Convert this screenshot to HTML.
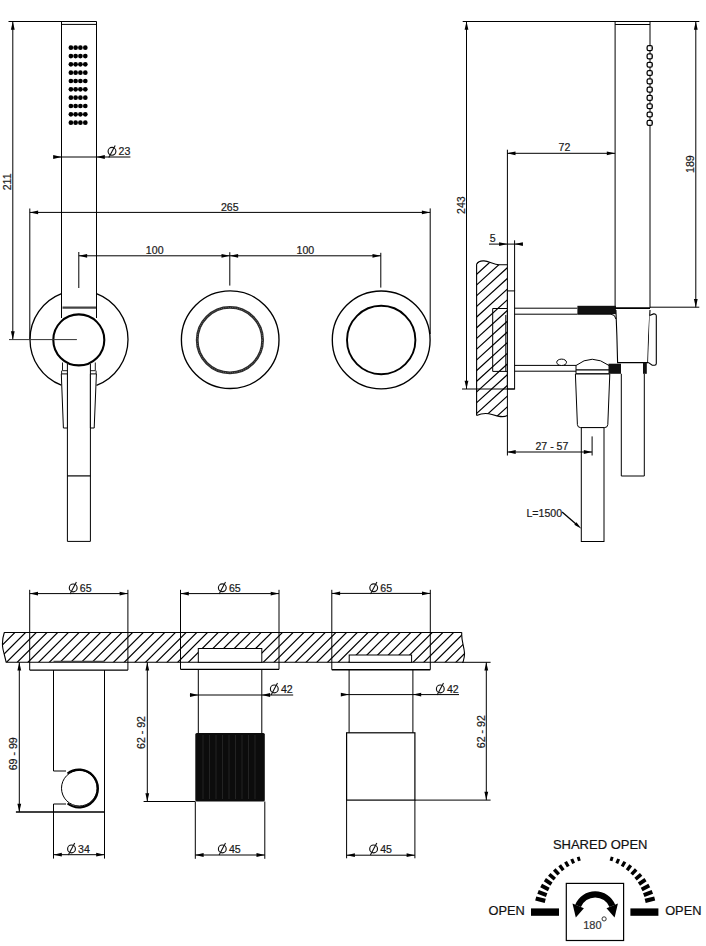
<!DOCTYPE html><html><head><meta charset="utf-8"><style>
html,body{margin:0;padding:0;background:#fff;}
svg{display:block;font-family:"Liberation Sans",sans-serif;}
</style></head><body>
<svg width="706" height="946" viewBox="0 0 706 946">
<line x1="8.50" y1="21.50" x2="96.60" y2="21.50" stroke="#000" stroke-width="1.0"/>
<line x1="12.80" y1="21.50" x2="12.80" y2="339.60" stroke="#000" stroke-width="1.0"/>
<polygon points="12.80,21.50 10.90,29.80 14.70,29.80" fill="#000"/>
<polygon points="12.80,339.60 10.90,331.30 14.70,331.30" fill="#000"/>
<text x="10.90" y="181.90" font-size="10.6" text-anchor="middle" fill="#1a1a1a" stroke="#1a1a1a" stroke-width="0.2" transform="rotate(-90 10.90 181.90)" >211</text>
<path d="M61.5,21.5 L61.5,318 M96.5,21.5 L96.5,318" fill="none" stroke="#000" stroke-width="1.0" />
<line x1="61.50" y1="24.40" x2="96.50" y2="24.40" stroke="#000" stroke-width="1.0"/>
<line x1="62.50" y1="307.70" x2="96.00" y2="307.70" stroke="#444" stroke-width="2.2"/>
<circle cx="70.90" cy="47.70" r="2.35" fill="#000" stroke="none" stroke-width="0" />
<circle cx="75.60" cy="47.70" r="2.35" fill="#000" stroke="none" stroke-width="0" />
<circle cx="80.40" cy="47.70" r="2.35" fill="#000" stroke="none" stroke-width="0" />
<circle cx="85.30" cy="47.70" r="2.35" fill="#000" stroke="none" stroke-width="0" />
<circle cx="70.90" cy="56.03" r="2.35" fill="#000" stroke="none" stroke-width="0" />
<circle cx="75.60" cy="56.03" r="2.35" fill="#000" stroke="none" stroke-width="0" />
<circle cx="80.40" cy="56.03" r="2.35" fill="#000" stroke="none" stroke-width="0" />
<circle cx="85.30" cy="56.03" r="2.35" fill="#000" stroke="none" stroke-width="0" />
<circle cx="70.90" cy="64.36" r="2.35" fill="#000" stroke="none" stroke-width="0" />
<circle cx="75.60" cy="64.36" r="2.35" fill="#000" stroke="none" stroke-width="0" />
<circle cx="80.40" cy="64.36" r="2.35" fill="#000" stroke="none" stroke-width="0" />
<circle cx="85.30" cy="64.36" r="2.35" fill="#000" stroke="none" stroke-width="0" />
<circle cx="70.90" cy="72.69" r="2.35" fill="#000" stroke="none" stroke-width="0" />
<circle cx="75.60" cy="72.69" r="2.35" fill="#000" stroke="none" stroke-width="0" />
<circle cx="80.40" cy="72.69" r="2.35" fill="#000" stroke="none" stroke-width="0" />
<circle cx="85.30" cy="72.69" r="2.35" fill="#000" stroke="none" stroke-width="0" />
<circle cx="70.90" cy="81.02" r="2.35" fill="#000" stroke="none" stroke-width="0" />
<circle cx="75.60" cy="81.02" r="2.35" fill="#000" stroke="none" stroke-width="0" />
<circle cx="80.40" cy="81.02" r="2.35" fill="#000" stroke="none" stroke-width="0" />
<circle cx="85.30" cy="81.02" r="2.35" fill="#000" stroke="none" stroke-width="0" />
<circle cx="70.90" cy="89.35" r="2.35" fill="#000" stroke="none" stroke-width="0" />
<circle cx="75.60" cy="89.35" r="2.35" fill="#000" stroke="none" stroke-width="0" />
<circle cx="80.40" cy="89.35" r="2.35" fill="#000" stroke="none" stroke-width="0" />
<circle cx="85.30" cy="89.35" r="2.35" fill="#000" stroke="none" stroke-width="0" />
<circle cx="70.90" cy="97.68" r="2.35" fill="#000" stroke="none" stroke-width="0" />
<circle cx="75.60" cy="97.68" r="2.35" fill="#000" stroke="none" stroke-width="0" />
<circle cx="80.40" cy="97.68" r="2.35" fill="#000" stroke="none" stroke-width="0" />
<circle cx="85.30" cy="97.68" r="2.35" fill="#000" stroke="none" stroke-width="0" />
<circle cx="70.90" cy="106.01" r="2.35" fill="#000" stroke="none" stroke-width="0" />
<circle cx="75.60" cy="106.01" r="2.35" fill="#000" stroke="none" stroke-width="0" />
<circle cx="80.40" cy="106.01" r="2.35" fill="#000" stroke="none" stroke-width="0" />
<circle cx="85.30" cy="106.01" r="2.35" fill="#000" stroke="none" stroke-width="0" />
<circle cx="70.90" cy="114.34" r="2.35" fill="#000" stroke="none" stroke-width="0" />
<circle cx="75.60" cy="114.34" r="2.35" fill="#000" stroke="none" stroke-width="0" />
<circle cx="80.40" cy="114.34" r="2.35" fill="#000" stroke="none" stroke-width="0" />
<circle cx="85.30" cy="114.34" r="2.35" fill="#000" stroke="none" stroke-width="0" />
<circle cx="70.90" cy="122.67" r="2.35" fill="#000" stroke="none" stroke-width="0" />
<circle cx="75.60" cy="122.67" r="2.35" fill="#000" stroke="none" stroke-width="0" />
<circle cx="80.40" cy="122.67" r="2.35" fill="#000" stroke="none" stroke-width="0" />
<circle cx="85.30" cy="122.67" r="2.35" fill="#000" stroke="none" stroke-width="0" />
<line x1="53.60" y1="157.00" x2="130.40" y2="157.00" stroke="#000" stroke-width="1.0"/>
<polygon points="61.50,157.00 53.20,155.10 53.20,158.90" fill="#000"/>
<polygon points="96.50,157.00 104.80,155.10 104.80,158.90" fill="#000"/>
<circle cx="112.00" cy="151.30" r="3.90" fill="none" stroke="#111" stroke-width="1.15" />
<line x1="108.80" y1="157.50" x2="115.20" y2="145.50" stroke="#111" stroke-width="1.1"/>
<text x="118.60" y="155.20" font-size="10.6" text-anchor="start" fill="#1a1a1a" stroke="#1a1a1a" stroke-width="0.2" >23</text>
<line x1="29.80" y1="212.40" x2="430.20" y2="212.40" stroke="#000" stroke-width="1.0"/>
<polygon points="29.80,212.40 38.10,210.50 38.10,214.30" fill="#000"/>
<polygon points="430.20,212.40 421.90,210.50 421.90,214.30" fill="#000"/>
<line x1="29.80" y1="208.50" x2="29.80" y2="339.50" stroke="#000" stroke-width="1.0"/>
<line x1="430.20" y1="208.40" x2="430.20" y2="334.00" stroke="#000" stroke-width="1.0"/>
<text x="229.80" y="210.70" font-size="10.6" text-anchor="middle" fill="#1a1a1a" stroke="#1a1a1a" stroke-width="0.2" >265</text>
<line x1="78.80" y1="255.80" x2="380.80" y2="255.80" stroke="#000" stroke-width="1.0"/>
<polygon points="78.80,255.80 87.10,253.90 87.10,257.70" fill="#000"/>
<polygon points="229.80,255.80 221.50,253.90 221.50,257.70" fill="#000"/>
<polygon points="229.80,255.80 238.10,253.90 238.10,257.70" fill="#000"/>
<polygon points="380.80,255.80 372.50,253.90 372.50,257.70" fill="#000"/>
<line x1="78.80" y1="252.00" x2="78.80" y2="288.00" stroke="#000" stroke-width="1.0"/>
<line x1="229.80" y1="252.20" x2="229.80" y2="285.60" stroke="#000" stroke-width="1.0"/>
<line x1="380.80" y1="252.80" x2="380.80" y2="287.60" stroke="#000" stroke-width="1.0"/>
<text x="154.70" y="253.80" font-size="10.6" text-anchor="middle" fill="#1a1a1a" stroke="#1a1a1a" stroke-width="0.2" >100</text>
<text x="305.40" y="253.80" font-size="10.6" text-anchor="middle" fill="#1a1a1a" stroke="#1a1a1a" stroke-width="0.2" >100</text>
<path d="M61.30,385.19 A49,49 0 0 1 61.50,293.73" fill="none" stroke="#000" stroke-width="1.3" />
<path d="M96.50,293.73 A49,49 0 0 1 96.50,385.27" fill="none" stroke="#000" stroke-width="1.3" />
<path d="M67.4,364 L67.4,541.4 L90.4,541.4 L90.4,364" fill="#fff" stroke="#000" stroke-width="1.0" />
<line x1="67.40" y1="475.90" x2="90.40" y2="475.90" stroke="#000" stroke-width="1.2"/>
<path d="M61.3,373.9 L67.4,373.9 L67.4,428 L63.4,428 Z" fill="#fff" stroke="#000" stroke-width="1.0" />
<path d="M90.4,373.9 L96.4,373.9 L94.2,428 L90.4,428 Z" fill="#fff" stroke="#000" stroke-width="1.0" />
<path d="M62.5,362.5 L62.5,370.7 L67.4,370.7 M61.6,370.7 L61.6,373.9" fill="none" stroke="#000" stroke-width="0.9" />
<path d="M95.3,362.5 L95.3,370.7 L90.4,370.7 M96.1,370.7 L96.1,373.9" fill="none" stroke="#000" stroke-width="0.9" />
<circle cx="78.80" cy="339.90" r="25.50" fill="#fff" stroke="#000" stroke-width="2.1" />
<line x1="9.00" y1="339.60" x2="76.90" y2="339.60" stroke="#333" stroke-width="1.0"/>
<circle cx="230.20" cy="339.70" r="48.80" fill="none" stroke="#000" stroke-width="1.35" />
<circle cx="229.90" cy="340.10" r="32.70" fill="none" stroke="#2a2a2a" stroke-width="2.8" />
<circle cx="229.90" cy="340.10" r="32.70" fill="none" stroke="#999" stroke-width="0.7" stroke-dasharray="0.7 1.6"/>
<circle cx="381.20" cy="339.90" r="48.90" fill="none" stroke="#000" stroke-width="1.35" />
<circle cx="381.20" cy="340.00" r="34.20" fill="none" stroke="#000" stroke-width="1.9" />
<line x1="462.70" y1="21.50" x2="699.30" y2="21.50" stroke="#000" stroke-width="1.0"/>
<line x1="466.50" y1="21.50" x2="466.50" y2="389.00" stroke="#000" stroke-width="1.0"/>
<polygon points="466.50,21.50 464.60,29.80 468.40,29.80" fill="#000"/>
<polygon points="466.50,389.00 464.60,380.70 468.40,380.70" fill="#000"/>
<text x="464.80" y="205.10" font-size="10.6" text-anchor="middle" fill="#1a1a1a" stroke="#1a1a1a" stroke-width="0.2" transform="rotate(-90 464.80 205.10)" >243</text>
<line x1="695.80" y1="21.50" x2="695.80" y2="307.30" stroke="#000" stroke-width="1.0"/>
<polygon points="695.80,21.50 693.90,29.80 697.70,29.80" fill="#000"/>
<polygon points="695.80,307.30 693.90,299.00 697.70,299.00" fill="#000"/>
<text x="693.90" y="164.10" font-size="10.6" text-anchor="middle" fill="#1a1a1a" stroke="#1a1a1a" stroke-width="0.2" transform="rotate(-90 693.90 164.10)" >189</text>
<line x1="615.10" y1="21.50" x2="615.10" y2="308.00" stroke="#000" stroke-width="1.0"/>
<line x1="650.00" y1="21.50" x2="650.00" y2="308.00" stroke="#000" stroke-width="1.0"/>
<line x1="615.10" y1="24.50" x2="650.00" y2="24.50" stroke="#000" stroke-width="1.0"/>
<line x1="650.00" y1="307.20" x2="699.30" y2="307.20" stroke="#000" stroke-width="1.0"/>
<rect x="647.10" y="45.65" width="5.20" height="4.90" rx="1.6" fill="#fff" stroke="#000" stroke-width="1.25"/>
<line x1="651.30" y1="46.30" x2="651.30" y2="49.90" stroke="#555" stroke-width="0.6"/>
<rect x="647.10" y="53.95" width="5.20" height="4.90" rx="1.6" fill="#fff" stroke="#000" stroke-width="1.25"/>
<line x1="651.30" y1="54.60" x2="651.30" y2="58.20" stroke="#555" stroke-width="0.6"/>
<rect x="647.10" y="62.25" width="5.20" height="4.90" rx="1.6" fill="#fff" stroke="#000" stroke-width="1.25"/>
<line x1="651.30" y1="62.90" x2="651.30" y2="66.50" stroke="#555" stroke-width="0.6"/>
<rect x="647.10" y="70.55" width="5.20" height="4.90" rx="1.6" fill="#fff" stroke="#000" stroke-width="1.25"/>
<line x1="651.30" y1="71.20" x2="651.30" y2="74.80" stroke="#555" stroke-width="0.6"/>
<rect x="647.10" y="78.85" width="5.20" height="4.90" rx="1.6" fill="#fff" stroke="#000" stroke-width="1.25"/>
<line x1="651.30" y1="79.50" x2="651.30" y2="83.10" stroke="#555" stroke-width="0.6"/>
<rect x="647.10" y="87.15" width="5.20" height="4.90" rx="1.6" fill="#fff" stroke="#000" stroke-width="1.25"/>
<line x1="651.30" y1="87.80" x2="651.30" y2="91.40" stroke="#555" stroke-width="0.6"/>
<rect x="647.10" y="95.45" width="5.20" height="4.90" rx="1.6" fill="#fff" stroke="#000" stroke-width="1.25"/>
<line x1="651.30" y1="96.10" x2="651.30" y2="99.70" stroke="#555" stroke-width="0.6"/>
<rect x="647.10" y="103.75" width="5.20" height="4.90" rx="1.6" fill="#fff" stroke="#000" stroke-width="1.25"/>
<line x1="651.30" y1="104.40" x2="651.30" y2="108.00" stroke="#555" stroke-width="0.6"/>
<rect x="647.10" y="112.05" width="5.20" height="4.90" rx="1.6" fill="#fff" stroke="#000" stroke-width="1.25"/>
<line x1="651.30" y1="112.70" x2="651.30" y2="116.30" stroke="#555" stroke-width="0.6"/>
<rect x="647.10" y="120.35" width="5.20" height="4.90" rx="1.6" fill="#fff" stroke="#000" stroke-width="1.25"/>
<line x1="651.30" y1="121.00" x2="651.30" y2="124.60" stroke="#555" stroke-width="0.6"/>
<line x1="507.20" y1="153.30" x2="615.10" y2="153.30" stroke="#000" stroke-width="1.0"/>
<polygon points="507.20,153.30 515.50,151.40 515.50,155.20" fill="#000"/>
<polygon points="615.10,153.30 606.80,151.40 606.80,155.20" fill="#000"/>
<text x="564.50" y="150.70" font-size="10.6" text-anchor="middle" fill="#1a1a1a" stroke="#1a1a1a" stroke-width="0.2" >72</text>
<line x1="507.40" y1="149.70" x2="507.40" y2="455.50" stroke="#000" stroke-width="1.0"/>
<line x1="489.00" y1="244.10" x2="522.80" y2="244.10" stroke="#000" stroke-width="1.0"/>
<polygon points="507.40,244.10 499.10,242.20 499.10,246.00" fill="#000"/>
<polygon points="514.60,244.10 522.90,242.20 522.90,246.00" fill="#000"/>
<line x1="514.60" y1="240.30" x2="514.60" y2="291.00" stroke="#000" stroke-width="1.0"/>
<text x="492.70" y="242.20" font-size="10.6" text-anchor="middle" fill="#1a1a1a" stroke="#1a1a1a" stroke-width="0.2" >5</text>
<clipPath id="wallR"><path d="M476.6,264.3 C478,261.5 481,260.7 484,260.9 C489,261.3 494,264.6 499,264.7 L507.4,264.7 L507.4,415.5 C503,418 498,416.5 492,414.5 C486,412.5 481,413.5 476.6,415.5 Z"/></clipPath>
<g clip-path="url(#wallR)"><path d="M470,-19.30 L515,-60.25 M470,-8.60 L515,-49.55 M470,2.10 L515,-38.85 M470,12.80 L515,-28.15 M470,23.50 L515,-17.45 M470,34.20 L515,-6.75 M470,44.90 L515,3.95 M470,55.60 L515,14.65 M470,66.30 L515,25.35 M470,77.00 L515,36.05 M470,87.70 L515,46.75 M470,98.40 L515,57.45 M470,109.10 L515,68.15 M470,119.80 L515,78.85 M470,130.50 L515,89.55 M470,141.20 L515,100.25 M470,151.90 L515,110.95 M470,162.60 L515,121.65 M470,173.30 L515,132.35 M470,184.00 L515,143.05 M470,194.70 L515,153.75 M470,205.40 L515,164.45 M470,216.10 L515,175.15 M470,226.80 L515,185.85 M470,237.50 L515,196.55 M470,248.20 L515,207.25 M470,258.90 L515,217.95 M470,269.60 L515,228.65 M470,280.30 L515,239.35 M470,291.00 L515,250.05 M470,301.70 L515,260.75 M470,312.40 L515,271.45 M470,323.10 L515,282.15 M470,333.80 L515,292.85 M470,344.50 L515,303.55 M470,355.20 L515,314.25 M470,365.90 L515,324.95 M470,376.60 L515,335.65 M470,387.30 L515,346.35 M470,398.00 L515,357.05 M470,408.70 L515,367.75 M470,419.40 L515,378.45 M470,430.10 L515,389.15 M470,440.80 L515,399.85 M470,451.50 L515,410.55 M470,462.20 L515,421.25 M470,472.90 L515,431.95 M470,483.60 L515,442.65 M470,494.30 L515,453.35 M470,505.00 L515,464.05 M470,515.70 L515,474.75 M470,526.40 L515,485.45 M470,537.10 L515,496.15 M470,547.80 L515,506.85 M470,558.50 L515,517.55 M470,569.20 L515,528.25 M470,579.90 L515,538.95 M470,590.60 L515,549.65 M470,601.30 L515,560.35 M470,612.00 L515,571.05" stroke="#000" stroke-width="1.2" fill="none"/></g>
<path d="M476.6,264.3 C478,261.5 481,260.7 484,260.9 C489,261.3 494,264.6 499,264.7 L507.4,264.7 M507.4,415.5 C503,418 498,416.5 492,414.5 C486,412.5 481,413.5 476.6,415.5 M476.6,264.3 L476.6,415.5" fill="none" stroke="#000" stroke-width="1.1" />
<path d="M507.4,308.5 L492.7,308.5 L492.7,371.4 L507.4,371.4 M505.8,315 L505.8,371.4" fill="none" stroke="#000" stroke-width="1.0" />
<rect x="507.40" y="290.90" width="7.20" height="98.10" rx="0" fill="#fff" stroke="#000" stroke-width="1.0"/>
<line x1="462.00" y1="389.00" x2="514.60" y2="389.00" stroke="#000" stroke-width="1.0"/>
<line x1="514.60" y1="308.20" x2="577.40" y2="308.20" stroke="#000" stroke-width="1.0"/>
<line x1="514.60" y1="314.20" x2="577.40" y2="314.20" stroke="#000" stroke-width="1.0"/>
<line x1="514.60" y1="365.40" x2="576.00" y2="365.40" stroke="#000" stroke-width="1.0"/>
<line x1="514.60" y1="371.20" x2="576.00" y2="371.20" stroke="#000" stroke-width="1.0"/>
<rect x="577.40" y="305.80" width="38.50" height="8.30" rx="0" fill="#111" stroke="none" stroke-width="0"/>
<path d="M577.4,314.2 L611,314.2 Q615.3,314.6 615.9,319" fill="none" stroke="#000" stroke-width="1.0" />
<line x1="615.10" y1="308.20" x2="650.00" y2="308.20" stroke="#000" stroke-width="1.8"/>
<path d="M615.9,310 Q617,335 617.6,362.6 L647.8,362.6 Q648.5,335 650,310" fill="none" stroke="#000" stroke-width="1.1" />
<path d="M649.6,315.6 L653.6,313.9 Q656.3,313.7 656.3,316 L656.3,363.6 Q656.3,365.3 654.6,365.3 L652.2,365.3 L648.2,362.4" fill="#fff" stroke="#000" stroke-width="1.1" />
<ellipse cx="561.6" cy="362.3" rx="4.9" ry="3.2" fill="#fff" stroke="#000" stroke-width="1"/>
<path d="M576,365.5 Q592,353 609,365.5" fill="#fff" stroke="#000" stroke-width="1.0" />
<line x1="576.00" y1="369.80" x2="609.00" y2="369.80" stroke="#000" stroke-width="1.2"/>
<line x1="576.00" y1="373.80" x2="609.00" y2="373.80" stroke="#000" stroke-width="1.0"/>
<line x1="576.00" y1="365.50" x2="576.00" y2="373.80" stroke="#000" stroke-width="1.0"/>
<rect x="608.50" y="363.70" width="12.50" height="10.10" rx="0" fill="#111" stroke="none" stroke-width="0"/>
<rect x="643.00" y="362.70" width="3.80" height="11.10" rx="0" fill="#111" stroke="none" stroke-width="0"/>
<path d="M575.4,374 L609.8,374 L607.8,424.6 Q607.6,427.6 604.6,427.6 L580.6,427.6 Q577.6,427.6 577.4,424.6 Z" fill="#fff" stroke="#000" stroke-width="1.0" />
<rect x="581.30" y="427.60" width="22.70" height="113.90" rx="0" fill="#fff" stroke="#000" stroke-width="1.0"/>
<path d="M621.3,373.8 L621.3,476 L644.3,476 L644.3,373.8" fill="none" stroke="#000" stroke-width="1.0" />
<line x1="507.40" y1="452.00" x2="592.10" y2="452.00" stroke="#000" stroke-width="1.0"/>
<polygon points="507.40,452.00 515.70,450.10 515.70,453.90" fill="#000"/>
<polygon points="592.10,452.00 583.80,450.10 583.80,453.90" fill="#000"/>
<line x1="592.10" y1="436.40" x2="592.10" y2="455.50" stroke="#000" stroke-width="1.0"/>
<text x="551.90" y="449.80" font-size="10.6" text-anchor="middle" fill="#1a1a1a" stroke="#1a1a1a" stroke-width="0.2" >27 - 57</text>
<text x="544.30" y="516.80" font-size="10.6" text-anchor="middle" fill="#1a1a1a" stroke="#1a1a1a" stroke-width="0.2" >L=1500</text>
<line x1="562.10" y1="511.90" x2="578.00" y2="525.80" stroke="#000" stroke-width="1.3"/>
<polygon points="581.40,528.70 574.32,524.65 576.42,522.24" fill="#000"/>
<clipPath id="wallB"><path d="M4.3,632.5 L461.8,632.5 C461,640 464,646 464.5,653 C464.7,657 463.5,660 463,662.3 L6.2,662.3 C5,657 3.5,652 2.8,648 C2,643 2.5,638 4.3,632.5 Z"/></clipPath>
<g clip-path="url(#wallB)"><path d="M-15.40,620 L-75.40,680 M-4.70,620 L-64.70,680 M6.00,620 L-54.00,680 M16.70,620 L-43.30,680 M27.40,620 L-32.60,680 M38.10,620 L-21.90,680 M48.80,620 L-11.20,680 M59.50,620 L-0.50,680 M70.20,620 L10.20,680 M80.90,620 L20.90,680 M91.60,620 L31.60,680 M102.30,620 L42.30,680 M113.00,620 L53.00,680 M123.70,620 L63.70,680 M134.40,620 L74.40,680 M145.10,620 L85.10,680 M155.80,620 L95.80,680 M166.50,620 L106.50,680 M177.20,620 L117.20,680 M187.90,620 L127.90,680 M198.60,620 L138.60,680 M209.30,620 L149.30,680 M220.00,620 L160.00,680 M230.70,620 L170.70,680 M241.40,620 L181.40,680 M252.10,620 L192.10,680 M262.80,620 L202.80,680 M273.50,620 L213.50,680 M284.20,620 L224.20,680 M294.90,620 L234.90,680 M305.60,620 L245.60,680 M316.30,620 L256.30,680 M327.00,620 L267.00,680 M337.70,620 L277.70,680 M348.40,620 L288.40,680 M359.10,620 L299.10,680 M369.80,620 L309.80,680 M380.50,620 L320.50,680 M391.20,620 L331.20,680 M401.90,620 L341.90,680 M412.60,620 L352.60,680 M423.30,620 L363.30,680 M434.00,620 L374.00,680 M444.70,620 L384.70,680 M455.40,620 L395.40,680 M466.10,620 L406.10,680 M476.80,620 L416.80,680 M487.50,620 L427.50,680 M498.20,620 L438.20,680 M508.90,620 L448.90,680 M519.60,620 L459.60,680 M530.30,620 L470.30,680 M541.00,620 L481.00,680 M551.70,620 L491.70,680 M562.40,620 L502.40,680 M573.10,620 L513.10,680 M583.80,620 L523.80,680 M594.50,620 L534.50,680 M605.20,620 L545.20,680 M615.90,620 L555.90,680 M626.60,620 L566.60,680 M637.30,620 L577.30,680 M648.00,620 L588.00,680 M658.70,620 L598.70,680 M669.40,620 L609.40,680 M680.10,620 L620.10,680 M690.80,620 L630.80,680 M701.50,620 L641.50,680 M712.20,620 L652.20,680 M722.90,620 L662.90,680 M733.60,620 L673.60,680 M744.30,620 L684.30,680 M755.00,620 L695.00,680 M765.70,620 L705.70,680 M776.40,620 L716.40,680 M787.10,620 L727.10,680 M797.80,620 L737.80,680 M808.50,620 L748.50,680 M819.20,620 L759.20,680 M829.90,620 L769.90,680 M840.60,620 L780.60,680 M851.30,620 L791.30,680 M862.00,620 L802.00,680 M872.70,620 L812.70,680 M883.40,620 L823.40,680 M894.10,620 L834.10,680 M904.80,620 L844.80,680 M915.50,620 L855.50,680 M926.20,620 L866.20,680 M936.90,620 L876.90,680" stroke="#000" stroke-width="1.2" fill="none"/></g>
<path d="M4.3,632.5 L461.8,632.5 M463,662.3 L6.2,662.3 C5,657 3.5,652 2.8,648 C2,643 2.5,638 4.3,632.5 M461.8,632.5 C461,640 464,646 464.5,653 C464.7,657 463.5,660 463,662.3" fill="none" stroke="#000" stroke-width="1.1" />
<line x1="462.00" y1="662.30" x2="490.60" y2="662.30" stroke="#000" stroke-width="1.0"/>
<rect x="198.30" y="648.50" width="63.50" height="13.80" rx="0" fill="#fff" stroke="#000" stroke-width="1.0"/>
<rect x="349.20" y="655.00" width="62.40" height="7.30" rx="0" fill="#fff" stroke="#000" stroke-width="1.0"/>
<line x1="29.70" y1="589.80" x2="29.70" y2="670.10" stroke="#000" stroke-width="1.0"/>
<line x1="127.90" y1="589.80" x2="127.90" y2="670.10" stroke="#000" stroke-width="1.0"/>
<line x1="29.70" y1="670.10" x2="127.90" y2="670.10" stroke="#000" stroke-width="1.4"/>
<line x1="53.50" y1="661.80" x2="104.10" y2="661.80" stroke="#444" stroke-width="2.0"/>
<line x1="29.70" y1="593.60" x2="127.90" y2="593.60" stroke="#000" stroke-width="1.0"/>
<polygon points="29.70,593.60 38.00,591.70 38.00,595.50" fill="#000"/>
<polygon points="127.90,593.60 119.60,591.70 119.60,595.50" fill="#000"/>
<circle cx="73.20" cy="587.90" r="3.90" fill="none" stroke="#111" stroke-width="1.15" />
<line x1="70.00" y1="594.10" x2="76.40" y2="582.10" stroke="#111" stroke-width="1.1"/>
<text x="79.80" y="591.80" font-size="10.6" text-anchor="start" fill="#1a1a1a" stroke="#1a1a1a" stroke-width="0.2" >65</text>
<path d="M53.5,670.1 L53.5,771 L66,771 M53.5,812 L53.5,804 L66,804 M104.5,670.1 L104.5,812" fill="none" stroke="#000" stroke-width="1.0" />
<line x1="15.90" y1="812.00" x2="104.50" y2="812.00" stroke="#000" stroke-width="1.3"/>
<circle cx="79.30" cy="788.20" r="17.80" fill="#fff" stroke="#000" stroke-width="1.0" />
<path d="M67.5,773.5 A18.9,18.9 0 1 1 67.5,803.5" fill="none" stroke="#000" stroke-width="2.2" />
<line x1="53.50" y1="812.00" x2="53.50" y2="858.60" stroke="#000" stroke-width="1.0"/>
<line x1="104.50" y1="812.00" x2="104.50" y2="858.60" stroke="#000" stroke-width="1.0"/>
<line x1="53.50" y1="854.70" x2="104.50" y2="854.70" stroke="#000" stroke-width="1.0"/>
<polygon points="53.50,854.70 61.80,852.80 61.80,856.60" fill="#000"/>
<polygon points="104.50,854.70 96.20,852.80 96.20,856.60" fill="#000"/>
<circle cx="71.50" cy="848.90" r="3.90" fill="none" stroke="#111" stroke-width="1.15" />
<line x1="68.30" y1="855.10" x2="74.70" y2="843.10" stroke="#111" stroke-width="1.1"/>
<text x="78.10" y="852.80" font-size="10.6" text-anchor="start" fill="#1a1a1a" stroke="#1a1a1a" stroke-width="0.2" >34</text>
<line x1="19.30" y1="662.30" x2="19.30" y2="812.00" stroke="#000" stroke-width="1.0"/>
<polygon points="19.30,662.30 17.40,670.60 21.20,670.60" fill="#000"/>
<polygon points="19.30,812.00 17.40,803.70 21.20,803.70" fill="#000"/>
<text x="17.10" y="753.80" font-size="10.6" text-anchor="middle" fill="#1a1a1a" stroke="#1a1a1a" stroke-width="0.2" transform="rotate(-90 17.10 753.80)" >69 - 99</text>
<line x1="180.50" y1="589.80" x2="180.50" y2="669.40" stroke="#000" stroke-width="1.0"/>
<line x1="279.00" y1="589.80" x2="279.00" y2="669.40" stroke="#000" stroke-width="1.0"/>
<line x1="180.50" y1="669.40" x2="279.00" y2="669.40" stroke="#000" stroke-width="1.4"/>
<line x1="180.50" y1="593.60" x2="279.00" y2="593.60" stroke="#000" stroke-width="1.0"/>
<polygon points="180.50,593.60 188.80,591.70 188.80,595.50" fill="#000"/>
<polygon points="279.00,593.60 270.70,591.70 270.70,595.50" fill="#000"/>
<circle cx="222.30" cy="587.80" r="3.90" fill="none" stroke="#111" stroke-width="1.15" />
<line x1="219.10" y1="594.00" x2="225.50" y2="582.00" stroke="#111" stroke-width="1.1"/>
<text x="228.90" y="591.70" font-size="10.6" text-anchor="start" fill="#1a1a1a" stroke="#1a1a1a" stroke-width="0.2" >65</text>
<line x1="198.30" y1="669.40" x2="198.30" y2="733.00" stroke="#000" stroke-width="1.0"/>
<line x1="261.80" y1="669.40" x2="261.80" y2="733.00" stroke="#000" stroke-width="1.0"/>
<line x1="189.90" y1="695.00" x2="293.20" y2="695.00" stroke="#000" stroke-width="1.0"/>
<polygon points="198.30,695.00 190.00,693.10 190.00,696.90" fill="#000"/>
<polygon points="261.80,695.00 270.10,693.10 270.10,696.90" fill="#000"/>
<circle cx="274.30" cy="688.90" r="3.90" fill="none" stroke="#111" stroke-width="1.15" />
<line x1="271.10" y1="695.10" x2="277.50" y2="683.10" stroke="#111" stroke-width="1.1"/>
<text x="280.90" y="692.80" font-size="10.6" text-anchor="start" fill="#1a1a1a" stroke="#1a1a1a" stroke-width="0.2" >42</text>
<rect x="195.30" y="733.10" width="69.50" height="68.40" rx="1.5" fill="#0c0c0c" stroke="none" stroke-width="0"/>
<line x1="203.00" y1="735.00" x2="203.00" y2="799.00" stroke="#3a3a3a" stroke-width="0.5"/>
<line x1="209.50" y1="735.00" x2="209.50" y2="799.00" stroke="#3a3a3a" stroke-width="0.5"/>
<line x1="216.00" y1="735.00" x2="216.00" y2="799.00" stroke="#3a3a3a" stroke-width="0.5"/>
<line x1="222.50" y1="735.00" x2="222.50" y2="799.00" stroke="#3a3a3a" stroke-width="0.5"/>
<line x1="229.00" y1="735.00" x2="229.00" y2="799.00" stroke="#3a3a3a" stroke-width="0.5"/>
<line x1="235.50" y1="735.00" x2="235.50" y2="799.00" stroke="#3a3a3a" stroke-width="0.5"/>
<line x1="242.00" y1="735.00" x2="242.00" y2="799.00" stroke="#3a3a3a" stroke-width="0.5"/>
<line x1="248.50" y1="735.00" x2="248.50" y2="799.00" stroke="#3a3a3a" stroke-width="0.5"/>
<line x1="255.00" y1="735.00" x2="255.00" y2="799.00" stroke="#3a3a3a" stroke-width="0.5"/>
<line x1="143.60" y1="801.50" x2="195.30" y2="801.50" stroke="#000" stroke-width="1.0"/>
<line x1="147.30" y1="662.30" x2="147.30" y2="801.50" stroke="#000" stroke-width="1.0"/>
<polygon points="147.30,662.30 145.40,670.60 149.20,670.60" fill="#000"/>
<polygon points="147.30,801.50 145.40,793.20 149.20,793.20" fill="#000"/>
<text x="144.90" y="732.50" font-size="10.6" text-anchor="middle" fill="#1a1a1a" stroke="#1a1a1a" stroke-width="0.2" transform="rotate(-90 144.90 732.50)" >62 - 92</text>
<line x1="195.30" y1="801.50" x2="195.30" y2="858.80" stroke="#000" stroke-width="1.0"/>
<line x1="264.80" y1="801.50" x2="264.80" y2="858.80" stroke="#000" stroke-width="1.0"/>
<line x1="195.30" y1="855.00" x2="264.80" y2="855.00" stroke="#000" stroke-width="1.0"/>
<polygon points="195.30,855.00 203.60,853.10 203.60,856.90" fill="#000"/>
<polygon points="264.80,855.00 256.50,853.10 256.50,856.90" fill="#000"/>
<circle cx="222.30" cy="848.90" r="3.90" fill="none" stroke="#111" stroke-width="1.15" />
<line x1="219.10" y1="855.10" x2="225.50" y2="843.10" stroke="#111" stroke-width="1.1"/>
<text x="228.90" y="852.80" font-size="10.6" text-anchor="start" fill="#1a1a1a" stroke="#1a1a1a" stroke-width="0.2" >45</text>
<line x1="331.80" y1="589.80" x2="331.80" y2="669.70" stroke="#000" stroke-width="1.0"/>
<line x1="430.30" y1="589.80" x2="430.30" y2="669.70" stroke="#000" stroke-width="1.0"/>
<line x1="331.80" y1="669.70" x2="430.30" y2="669.70" stroke="#000" stroke-width="1.4"/>
<line x1="331.80" y1="593.40" x2="430.30" y2="593.40" stroke="#000" stroke-width="1.0"/>
<polygon points="331.80,593.40 340.10,591.50 340.10,595.30" fill="#000"/>
<polygon points="430.30,593.40 422.00,591.50 422.00,595.30" fill="#000"/>
<circle cx="373.70" cy="587.80" r="3.90" fill="none" stroke="#111" stroke-width="1.15" />
<line x1="370.50" y1="594.00" x2="376.90" y2="582.00" stroke="#111" stroke-width="1.1"/>
<text x="380.30" y="591.70" font-size="10.6" text-anchor="start" fill="#1a1a1a" stroke="#1a1a1a" stroke-width="0.2" >65</text>
<path d="M349.1,669.7 L349.1,732.8 M412.9,669.7 L412.9,732.8" fill="none" stroke="#000" stroke-width="1.0" />
<rect x="346.60" y="732.80" width="68.30" height="67.30" rx="0" fill="none" stroke="#000" stroke-width="1.2"/>
<line x1="341.40" y1="694.60" x2="459.00" y2="694.60" stroke="#000" stroke-width="1.0"/>
<polygon points="349.10,694.60 340.80,692.70 340.80,696.50" fill="#000"/>
<polygon points="412.90,694.60 421.20,692.70 421.20,696.50" fill="#000"/>
<circle cx="440.30" cy="688.90" r="3.90" fill="none" stroke="#111" stroke-width="1.15" />
<line x1="437.10" y1="695.10" x2="443.50" y2="683.10" stroke="#111" stroke-width="1.1"/>
<text x="446.90" y="692.80" font-size="10.6" text-anchor="start" fill="#1a1a1a" stroke="#1a1a1a" stroke-width="0.2" >42</text>
<line x1="414.90" y1="800.10" x2="490.60" y2="800.10" stroke="#000" stroke-width="1.0"/>
<line x1="486.30" y1="662.30" x2="486.30" y2="800.10" stroke="#000" stroke-width="1.0"/>
<polygon points="486.30,662.30 484.40,670.60 488.20,670.60" fill="#000"/>
<polygon points="486.30,800.10 484.40,791.80 488.20,791.80" fill="#000"/>
<text x="484.60" y="731.70" font-size="10.6" text-anchor="middle" fill="#1a1a1a" stroke="#1a1a1a" stroke-width="0.2" transform="rotate(-90 484.60 731.70)" >62 - 92</text>
<line x1="346.60" y1="800.10" x2="346.60" y2="858.30" stroke="#000" stroke-width="1.0"/>
<line x1="414.90" y1="800.10" x2="414.90" y2="858.30" stroke="#000" stroke-width="1.0"/>
<line x1="346.60" y1="855.20" x2="414.90" y2="855.20" stroke="#000" stroke-width="1.0"/>
<polygon points="346.60,855.20 354.90,853.30 354.90,857.10" fill="#000"/>
<polygon points="414.90,855.20 406.60,853.30 406.60,857.10" fill="#000"/>
<circle cx="373.60" cy="848.90" r="3.90" fill="none" stroke="#111" stroke-width="1.15" />
<line x1="370.40" y1="855.10" x2="376.80" y2="843.10" stroke="#111" stroke-width="1.1"/>
<text x="380.20" y="852.80" font-size="10.6" text-anchor="start" fill="#1a1a1a" stroke="#1a1a1a" stroke-width="0.2" >45</text>
<text x="600.20" y="848.70" font-size="13" text-anchor="middle" fill="#111" stroke="#111" stroke-width="0.2" >SHARED OPEN</text>
<text x="506.60" y="914.80" font-size="12.8" text-anchor="middle" fill="#111" stroke="#111" stroke-width="0.2" >OPEN</text>
<text x="683.30" y="914.80" font-size="12.8" text-anchor="middle" fill="#111" stroke="#111" stroke-width="0.2" >OPEN</text>
<rect x="531.00" y="908.40" width="28.00" height="7.40" rx="0" fill="#000" stroke="none" stroke-width="0"/>
<rect x="630.40" y="908.40" width="28.00" height="7.40" rx="0" fill="#000" stroke="none" stroke-width="0"/>
<rect x="566.30" y="883.40" width="57.30" height="57.10" rx="0" fill="none" stroke="#000" stroke-width="1.2"/>
<line x1="645.17" y1="900.84" x2="654.68" y2="898.47" stroke="#000" stroke-width="4.3"/>
<line x1="643.75" y1="895.07" x2="652.34" y2="891.85" stroke="#000" stroke-width="4.144444444444444"/>
<line x1="641.66" y1="889.47" x2="649.27" y2="885.57" stroke="#000" stroke-width="3.988888888888889"/>
<line x1="638.92" y1="884.11" x2="645.51" y2="879.70" stroke="#000" stroke-width="3.833333333333333"/>
<line x1="635.56" y1="879.06" x2="641.13" y2="874.33" stroke="#000" stroke-width="3.6777777777777776"/>
<line x1="631.61" y1="874.41" x2="636.18" y2="869.52" stroke="#000" stroke-width="3.522222222222222"/>
<line x1="627.13" y1="870.21" x2="630.74" y2="865.33" stroke="#000" stroke-width="3.3666666666666667"/>
<line x1="622.16" y1="866.52" x2="624.88" y2="861.81" stroke="#000" stroke-width="3.2111111111111112"/>
<line x1="616.76" y1="863.42" x2="618.68" y2="858.99" stroke="#000" stroke-width="3.0555555555555554"/>
<line x1="611.01" y1="860.93" x2="612.22" y2="856.91" stroke="#000" stroke-width="2.9"/>
<line x1="545.23" y1="900.84" x2="535.72" y2="898.47" stroke="#000" stroke-width="4.3"/>
<line x1="546.65" y1="895.07" x2="538.06" y2="891.85" stroke="#000" stroke-width="4.144444444444444"/>
<line x1="548.74" y1="889.47" x2="541.13" y2="885.57" stroke="#000" stroke-width="3.988888888888889"/>
<line x1="551.48" y1="884.11" x2="544.89" y2="879.70" stroke="#000" stroke-width="3.833333333333333"/>
<line x1="554.84" y1="879.06" x2="549.27" y2="874.33" stroke="#000" stroke-width="3.6777777777777776"/>
<line x1="558.79" y1="874.41" x2="554.22" y2="869.52" stroke="#000" stroke-width="3.522222222222222"/>
<line x1="563.27" y1="870.21" x2="559.66" y2="865.33" stroke="#000" stroke-width="3.3666666666666667"/>
<line x1="568.24" y1="866.52" x2="565.52" y2="861.81" stroke="#000" stroke-width="3.2111111111111112"/>
<line x1="573.64" y1="863.42" x2="571.72" y2="858.99" stroke="#000" stroke-width="3.0555555555555554"/>
<line x1="579.39" y1="860.93" x2="578.18" y2="856.91" stroke="#000" stroke-width="2.9"/>
<path d="M575.17,904.71 A21.6,21.6 0 0 1 615.23,904.71 L609.48,907.03 A15.4,15.4 0 0 0 580.92,907.03 Z" fill="#000" stroke="none" stroke-width="0" />
<polygon points="572.48,903.62 583.89,908.23 575.80,917.40" fill="#000"/>
<polygon points="617.92,903.62 606.51,908.23 614.60,917.40" fill="#000"/>
<text x="592.40" y="928.90" font-size="11" text-anchor="middle" fill="#333" stroke="#333" stroke-width="0.2" >180</text>
<circle cx="604.10" cy="918.90" r="2.10" fill="none" stroke="#333" stroke-width="1.0" />
</svg></body></html>
